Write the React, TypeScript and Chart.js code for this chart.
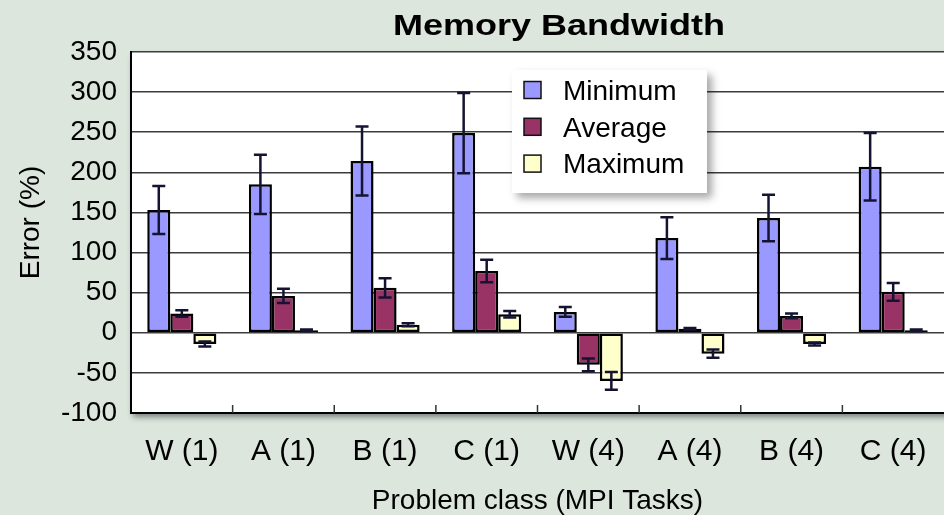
import React, { useEffect, useRef } from "react";
import { Chart, registerables } from "chart.js";

Chart.register(...registerables);

const categories = ["W (1)", "A (1)", "B (1)", "C (1)", "W (4)", "A (4)", "B (4)", "C (4)"];
const minimum = [153, 185, 214, 249, 26, 118, 143, 207];
const minimumErr = [30, 37, 43, 50, 6, 26, 29, 42];
const average = [24, 46, 56, 77, -40, 5, 21, 51];
const averageErr = [4, 9, 12, 14, 8, 1, 3, 11];
const maximum = [-14, 3, 10, 23, -60, -26, -14, 3];
const maximumErr = [3, 1, 2, 4, 11, 5, 2, 1];
const yTicks = [350, 300, 250, 200, 150, 100, 50, 0, -50, -100];

const chartTitle = "Memory Bandwidth";
const yTitle = "Error (%)";
const FONT = '"Liberation Sans", Arial, Helvetica, sans-serif';
const BG = "#dce6dd";

const errors = [minimumErr, averageErr, maximumErr];

const decorPlugin = {
  id: "decor",
  beforeDraw(chart: any) {
    const { ctx, chartArea: a } = chart;
    ctx.save();
    ctx.shadowColor = "rgba(0,0,0,0.45)";
    ctx.shadowBlur = 6;
    ctx.shadowOffsetX = 2;
    ctx.shadowOffsetY = 4;
    ctx.fillStyle = "#ffffff";
    ctx.fillRect(a.left, a.top, a.right - a.left + 20, a.bottom - a.top);
    ctx.restore();

    // title
    ctx.save();
    ctx.font = `bold 30px ${FONT}`;
    ctx.fillStyle = "#000";
    ctx.textBaseline = "alphabetic";
    const w = ctx.measureText(chartTitle).width;
    const target = 332;
    const s = target / w;
    ctx.translate(559 - target / 2, 35);
    ctx.scale(s, 1);
    ctx.fillText(chartTitle, 0, 0);
    ctx.restore();

    // y axis title
    ctx.save();
    ctx.font = `28px ${FONT}`;
    ctx.fillStyle = "#000";
    ctx.textAlign = "center";
    ctx.textBaseline = "middle";
    ctx.translate(31, (a.top + a.bottom) / 2 - 10);
    ctx.rotate(-Math.PI / 2);
    ctx.fillText(yTitle, 0, 0);
    ctx.restore();
  },
  afterDatasetsDraw(chart: any) {
    const { ctx, chartArea: a } = chart;
    const yScale = chart.scales.y;
    const xScale = chart.scales.x;
    ctx.save();
    // error bars
    ctx.strokeStyle = "#141432";
    ctx.lineWidth = 2.5;
    chart.data.datasets.forEach((ds: any, i: number) => {
      const meta = chart.getDatasetMeta(i);
      meta.data.forEach((el: any, j: number) => {
        const v = ds.data[j];
        const e = errors[i][j];
        const yt = yScale.getPixelForValue(v + e);
        const yb = yScale.getPixelForValue(v - e);
        const x = el.x;
        ctx.beginPath();
        ctx.moveTo(x, yt);
        ctx.lineTo(x, yb);
        ctx.moveTo(x - 6.5, yt);
        ctx.lineTo(x + 6.5, yt);
        ctx.moveTo(x - 6.5, yb);
        ctx.lineTo(x + 6.5, yb);
        ctx.stroke();
      });
    });
    // inner category tick marks
    ctx.strokeStyle = "#333";
    ctx.lineWidth = 1.5;
    for (let i = 1; i < categories.length; i++) {
      const x = (xScale.getPixelForValue(i - 1) + xScale.getPixelForValue(i)) / 2;
      ctx.beginPath();
      ctx.moveTo(x, a.bottom);
      ctx.lineTo(x, a.bottom - 8);
      ctx.stroke();
    }
    ctx.restore();

    // legend
    const lx = 512, ly = 70, lw = 195, lh = 123;
    ctx.save();
    ctx.shadowColor = "rgba(0,0,0,0.35)";
    ctx.shadowBlur = 8;
    ctx.shadowOffsetX = 5;
    ctx.shadowOffsetY = 5;
    ctx.fillStyle = "#fff";
    ctx.fillRect(lx, ly, lw, lh);
    ctx.restore();
    ctx.save();
    ctx.font = `28px ${FONT}`;
    ctx.textBaseline = "middle";
    ctx.fillStyle = "#000";
    chart.data.datasets.forEach((ds: any, i: number) => {
      const cy = 90 + i * 36.8;
      ctx.fillStyle = ds.backgroundColor;
      ctx.fillRect(524, cy - 8.5, 17, 17);
      ctx.strokeStyle = "#111";
      ctx.lineWidth = 1.5;
      ctx.strokeRect(524, cy - 8.5, 17, 17);
      ctx.fillStyle = "#000";
      ctx.fillText(ds.label, 563, cy + 2);
    });
    ctx.restore();
  },
};

export default function App() {
  const ref = useRef<HTMLCanvasElement | null>(null);
  useEffect(() => {
    if (!ref.current) return;
    const common = {
      borderColor: "#000",
      borderWidth: 2.5,
      borderSkipped: false,
      categoryPercentage: 0.68,
      barPercentage: 1.0,
    };
    const chart = new Chart(ref.current, {
      type: "bar",
      data: {
        labels: categories,
        datasets: [
          { label: "Minimum", data: minimum, backgroundColor: "#9999ff", ...common },
          { label: "Average", data: average, backgroundColor: "#993366", ...common },
          { label: "Maximum", data: maximum, backgroundColor: "#ffffcc", ...common },
        ],
      },
      options: {
        responsive: false,
        animation: false,
        devicePixelRatio: 1,
        layout: { padding: { top: 52, left: 0, right: 0, bottom: 0 } },
        plugins: { legend: { display: false }, title: { display: false }, tooltip: { enabled: false } },
        scales: {
          x: {
            grid: { display: false },
            border: { display: true, color: "#000", width: 2 },
            ticks: { color: "#000", font: { family: FONT, size: 30 }, padding: 13, maxRotation: 0, autoSkip: false },
            title: {
              display: true,
              text: "Problem class (MPI Tasks)",
              color: "#000",
              font: { family: FONT, size: 28, lineHeight: 1 },
              padding: { top: 0, bottom: 0 },
            },
            afterFit: (s: any) => { s.height = 102; },
          },
          y: {
            min: -100,
            max: 350,
            afterBuildTicks: (s: any) => { s.ticks = yTicks.map((v) => ({ value: v })); },
            grid: { color: "#3c3c3c", lineWidth: 1.5, drawTicks: false },
            border: { display: true, color: "#000", width: 2 },
            ticks: { color: "#000", font: { family: FONT, size: 28 }, padding: 14 },
            title: { display: false },
            afterFit: (s: any) => { s.width = 131; },
          },
        },
      },
      plugins: [decorPlugin],
    } as any);
    return () => chart.destroy();
  }, []);
  return (
    <div style={{ position: "fixed", left: 0, top: 0, width: 944, height: 515, background: BG, overflow: "hidden" }}>
      <canvas ref={ref} width={944} height={515} style={{ display: "block", width: 944, height: 515 }} />
    </div>
  );
}
